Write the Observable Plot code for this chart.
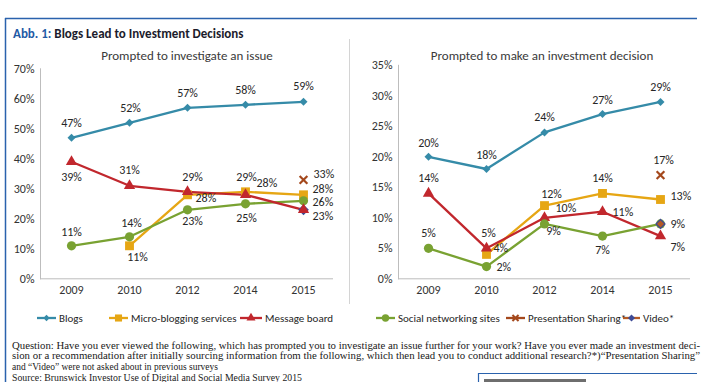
<!DOCTYPE html>
<html><head><meta charset="utf-8">
<script src="https://cdn.jsdelivr.net/npm/d3@7"></script>
<script src="https://cdn.jsdelivr.net/npm/@observablehq/plot@0.6"></script>
<style>
body{margin:0;background:#fff;}
#root{position:relative;width:716px;height:382px;overflow:hidden;font-family:Carlito,Lato,sans-serif;}
.abs{position:absolute;}
#title{left:13px;top:26px;font-size:13px;font-weight:700;color:#1c1c2c;white-space:nowrap;}
#title span{color:#1f5aa5;}
.ptitle{top:48px;font-size:13px;color:#3a3a3a;white-space:nowrap;transform:translateX(-50%);}
</style></head><body><div id="root"></div>
<script>
// ---- data ----
const years = ["2009", "2010", "2012", "2014", "2015"];
const seriesNames = ["Blogs", "Micro-blogging services", "Message board", "Social networking sites", "Presentation Sharing*", "Video*"];
const investBlogs = [47, 52, 57, 58, 59];
const investMicro = [null, 11, 28, 29, 28];
const investBoard = [39, 31, 29, 28, 23];
const investSocial = [11, 14, 23, 25, 26];
const investPresentation = [null, null, null, null, 33];
const investVideo = [null, null, null, null, 23];
const decideBlogs = [20, 18, 24, 27, 29];
const decideMicro = [null, 4, 12, 14, 13];
const decideBoard = [14, 5, 10, 11, 7];
const decideSocial = [5, 2, 9, 7, 9];
const decidePresentation = [null, null, null, null, 17];
const decideVideo = [null, null, null, null, 9];
const yTicksInvest = [0, 10, 20, 30, 40, 50, 60, 70];
const yTicksDecide = [0, 5, 10, 15, 20, 25, 30, 35];
const panelTitles = ["Prompted to investigate an issue", "Prompted to make an investment decision"];
const captionLines = [
  "Question: Have you ever viewed the following, which has prompted you to investigate an issue further for your work? Have you ever made an investment deci-",
  "sion or a recommendation after initially sourcing information from the following, which then lead you to conduct additional research?*)\u201cPresentation Sharing\u201d",
  "and \u201cVideo\u201d were not asked about in previous surveys",
  "Source: Brunswick Investor Use of Digital and Social Media Survey 2015"
];

// ---- styles / layout ----
const colors = ["#358ba8", "#e6a614", "#c1272d", "#79a232", "#a4481c", "#b45a23"];
const markers = [
  {symbol: "diamond2", r: 3.6},
  {symbol: "square", r: 5},
  {symbol: "triangle", r: 4.2},
  {symbol: "circle", r: 4.6},
  {symbol: "times", r: 3.6},
  {symbol: "diamond2", r: 4}
];
const A = (dx, dy) => ({dx, dy, anchor: "middle"});
const S = (dx, dy) => ({dx, dy, anchor: "start"});
const investLabelPos = [
  [A(0,-15), A(1,-15), A(0,-15), A(0,-15), A(0,-16)],
  [null, A(8,11), S(8,3), A(1,-15), S(9,-6)],
  [A(0,15), A(0,-16), A(5,-15), S(11,-12), S(9,6)],
  [A(0,-14), A(2,-14), A(5,11), A(1,14), S(9,1)],
  [null, null, null, null, S(10,-6)],
  [null, null, null, null, null]
];
const decideLabelPos = [
  [A(0,-14), A(0,-14), A(0,-15), A(0,-14), A(0,-15)],
  [null, S(7,-6), A(7,-11), A(0,-15), S(10,-3)],
  [A(0,-15), A(2,-15), S(11,-10), S(10,0), S(10,11)],
  [A(0,-15), S(10,1), A(9,7), A(0,14), S(10,0)],
  [null, null, null, null, A(3,-15)],
  [null, null, null, null, null]
];
const font = "Carlito, Lato, sans-serif";

function table(values) {
  return values.flatMap((arr, i) => arr.map((v, j) => v == null ? null : {series: seriesNames[i], si: i, year: years[j], yi: j, value: v}).filter(Boolean));
}

function panel(values, labelPos, yTicks, yMax, opts) {
  const data = table(values);
  const marks = [
    Plot.ruleY([0], {stroke: "#bdbdbd"}),
    Plot.frame({anchor: "left", stroke: "#bdbdbd"}),
    Plot.axisX({tickSize: 0, tickPadding: 7, fontSize: 12, fill: "#333"}),
    Plot.axisY({ticks: yTicks, tickFormat: d => d + "%", tickSize: 0, tickPadding: 6, fontSize: 12, fill: "#333"})
  ];
  const order = opts.order;
  for (const i of order) {
    const sd = data.filter(d => d.si === i);
    if (sd.length > 1) marks.push(Plot.line(sd, {x: "year", y: "value", stroke: colors[i], strokeWidth: 2.3}));
  }
  for (const i of order) {
    const sd = data.filter(d => d.si === i);
    const m = markers[i];
    if (i === 4) marks.push(Plot.dot(sd, {x: "year", y: "value", symbol: m.symbol, r: m.r, stroke: colors[i], strokeWidth: 2.2, fill: "none"}));
    else if (i === 5) marks.push(Plot.dot(sd, {x: "year", y: "value", symbol: m.symbol, r: m.r, fill: colors[i], stroke: "#3d4a96", strokeWidth: 1.3}));
    else marks.push(Plot.dot(sd, {x: "year", y: "value", symbol: m.symbol, r: m.r, fill: colors[i], stroke: "none"}));
  }
  for (const d of data) {
    const p = labelPos[d.si][d.yi];
    if (!p) continue;
    marks.push(Plot.text([d], {x: "year", y: "value", text: d => d.value + "%", dx: p.dx, dy: p.dy, textAnchor: p.anchor, fontSize: 12, fill: "#262626"}));
  }
  return Plot.plot({
    width: opts.width, height: 262,
    marginLeft: opts.ml, marginRight: opts.mr, marginTop: opts.mt, marginBottom: 23.7,
    x: {type: "point", domain: years, padding: 0.5, label: null},
    y: {domain: [0, yMax], label: null},
    style: {fontFamily: font, fontSize: "12px", color: "#333", background: "transparent", overflow: "visible"},
    marks
  });
}

const root = document.getElementById("root");

// background: frame, separator, legend, caption
const bg = d3.select(root).append("svg").attr("class", "abs").style("left", 0).style("top", 0)
  .attr("width", 716).attr("height", 382);
bg.append("line").attr("x1", 5).attr("x2", 697).attr("y1", 18.5).attr("y2", 18.5).attr("stroke", "#2a62ad").attr("stroke-width", 1.5);
bg.append("line").attr("x1", 5.5).attr("x2", 5.5).attr("y1", 18).attr("y2", 382).attr("stroke", "#2a62ad").attr("stroke-width", 1.5);
bg.append("line").attr("x1", 349.5).attr("x2", 349.5).attr("y1", 39).attr("y2", 304).attr("stroke", "#d4d4d4").attr("stroke-width", 1);
bg.append("line").attr("x1", 478).attr("x2", 697).attr("y1", 373.5).attr("y2", 373.5).attr("stroke", "#2a62ad").attr("stroke-width", 1.2);
bg.append("line").attr("x1", 478.5).attr("x2", 478.5).attr("y1", 373).attr("y2", 382).attr("stroke", "#2a62ad").attr("stroke-width", 1.2);
bg.append("rect").attr("x", 484).attr("y", 379).attr("width", 102).attr("height", 3).attr("fill", "#6e6e6e");

// legend
const legendX = [37, 109, 240, 376, 506, 623];
const legendTextX = [59, 131, 265, 398, 528, 643];
const symMap = {diamond2: d3.symbolDiamond2, square: d3.symbolSquare, triangle: d3.symbolTriangle, circle: d3.symbolCircle, times: d3.symbolTimes};
seriesNames.forEach((name, i) => {
  const g = bg.append("g");
  const x0 = legendX[i], x1 = legendTextX[i] - 3, y = 318;
  g.append("line").attr("x1", x0).attr("x2", x1).attr("y1", y).attr("y2", y).attr("stroke", colors[i]).attr("stroke-width", 2.3);
  const m = markers[i];
  const size = Math.PI * (m.r * 0.8) ** 2;
  const path = g.append("path").attr("d", d3.symbol(symMap[m.symbol], size)()).attr("transform", `translate(${(x0 + x1) / 2},${y})`);
  if (i === 4) path.attr("fill", "none").attr("stroke", colors[i]).attr("stroke-width", 2);
  else if (i === 5) path.attr("fill", "#3d4a96");
  else path.attr("fill", colors[i]);
  g.append("text").attr("x", legendTextX[i]).attr("y", y).attr("dy", "0.35em").attr("font-family", font).attr("font-size", 11).attr("fill", "#262626").text(name);
});

// caption
const capBase = [348.5, 359.2, 369.9, 380.6];
const capLen = [688, 688, 206, 290];
captionLines.forEach((t, i) => {
  bg.append("text").attr("x", 12).attr("y", capBase[i]).attr("font-family", "Liberation Serif, serif").attr("font-size", 11)
    .attr("fill", "#1a1a1a").attr("textLength", capLen[i]).attr("lengthAdjust", "spacingAndGlyphs").text(t);
});

// title
const title = document.createElement("div");
title.className = "abs"; title.id = "title";
title.innerHTML = "<span>Abb. 1:</span> Blogs Lead to Investment Decisions";
root.appendChild(title);

// panel titles
[[187, 0], [542, 1]].forEach(([cx, k]) => {
  const d = document.createElement("div");
  d.className = "abs ptitle"; d.style.left = cx + "px";
  d.textContent = panelTitles[k];
  root.appendChild(d);
});

// charts
const left = panel([investBlogs, investMicro, investBoard, investSocial, investPresentation, investVideo], investLabelPos, yTicksInvest, 70,
  {width: 350, ml: 40, mr: 17, mt: 28.3, order: [0, 1, 3, 5, 2, 4]});
left.classList.add("abs"); left.style.left = "0px"; left.style.top = "40px";
root.appendChild(left);

const right = panel([decideBlogs, decideMicro, decideBoard, decideSocial, decidePresentation, decideVideo], decideLabelPos, yTicksDecide, 35,
  {width: 366, ml: 48, mr: 26, mt: 24.8, order: [0, 1, 2, 3, 5, 4]});
right.classList.add("abs"); right.style.left = "350px"; right.style.top = "40px";
root.appendChild(right);
</script>
</body></html>
